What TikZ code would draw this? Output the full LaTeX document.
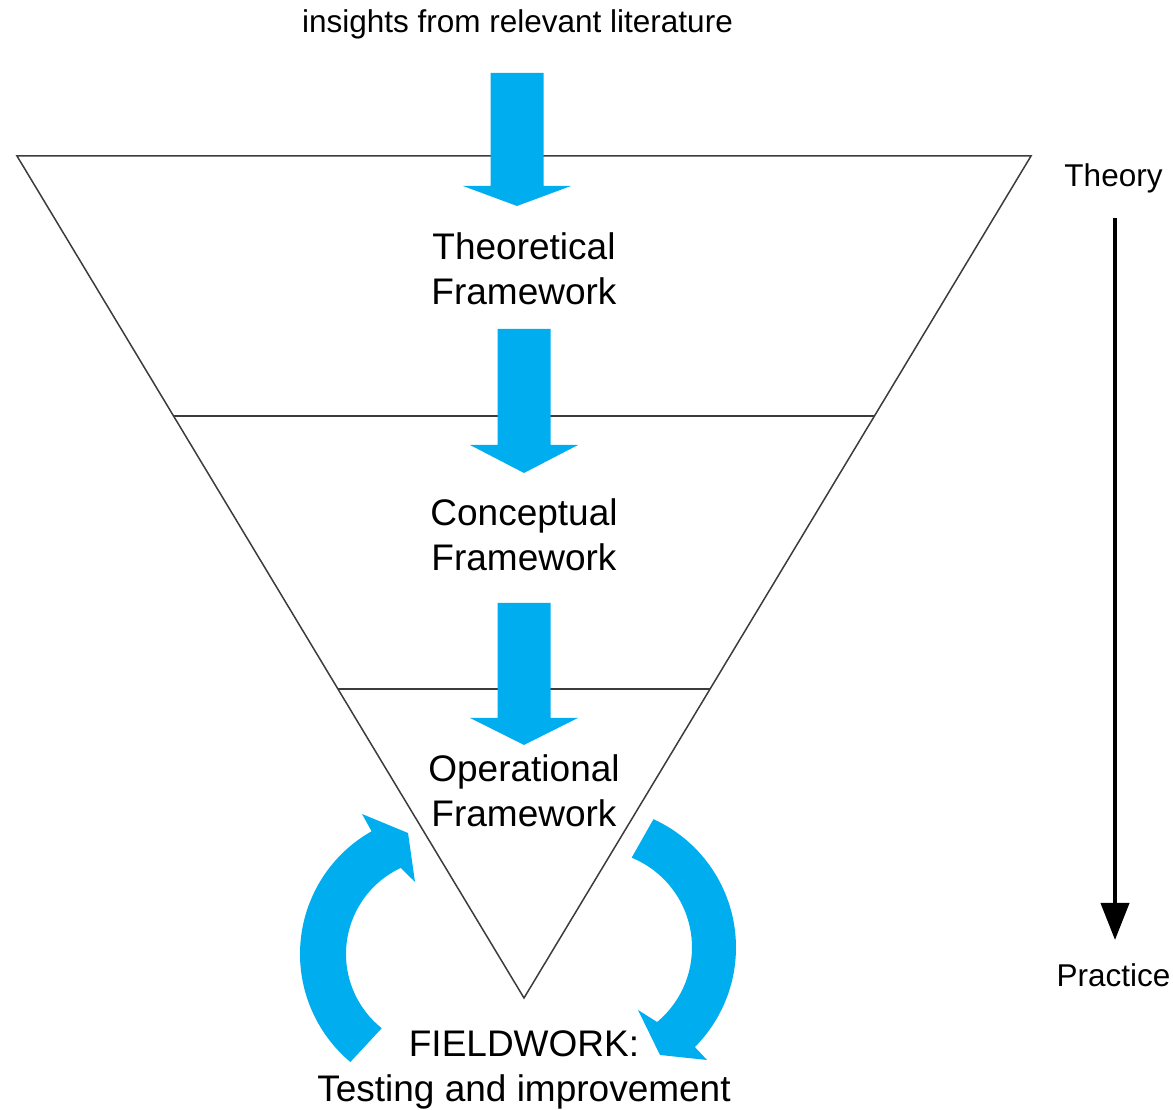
\documentclass[tikz,border=0pt]{standalone}
\usepackage{fontspec}
\setmainfont{Liberation Sans}
\usetikzlibrary{calc,arrows.meta}
\definecolor{arrowblue}{RGB}{0,174,239}
\definecolor{edgegray}{RGB}{60,60,60}
\newcommand\bluedownarrow[4]{% center x, top y, head base y, tip y
  \fill[arrowblue] ({#1-26.5},#2) -- ({#1+26.5},#2) -- ({#1+26.5},#3) -- ({#1+54},#3)
    -- (#1,#4) -- ({#1-54},#3) -- ({#1-26.5},#3) -- cycle;}
\begin{document}
\begin{tikzpicture}[x=1pt,y=1pt,
  bigtext/.style={font=\fontsize{37}{45}\selectfont, align=center, inner sep=0pt},
  smalltext/.style={font=\fontsize{31.5}{38}\selectfont, inner sep=0pt},
  funnel/.style={draw=edgegray, line width=1.5pt, line join=miter}]
\useasboundingbox (0,0) rectangle (1173,1110);
% funnel
\coordinate (TL) at (17,954);
\coordinate (TR) at (1031,954);
\coordinate (B) at (524,112);
\draw[funnel] (TL) -- (TR) -- (B) -- cycle;
\draw[funnel] ($(TL)!0.3088!(B)$) -- ($(TR)!0.3088!(B)$);
\draw[funnel] ($(TL)!0.6330!(B)$) -- ($(TR)!0.6330!(B)$);
% straight blue arrows
\bluedownarrow{517}{1037}{924}{904}
\bluedownarrow{524}{781}{665}{637}
\bluedownarrow{524}{507}{392}{365}
% curved blue arrows
\fill[arrowblue] ([shift={(441,156)}]230:141) arc[start angle=230, end angle=119.5, radius=141]
  -- (362,296) -- (408,277) -- (415,228)
  -- ([shift={(441,156)}]115:95) arc[start angle=115, end angle=231.4, radius=95] -- cycle;
\fill[arrowblue] ([shift={(595,162.5)}]65.5:141) arc[start angle=65.5, end angle=-44.9, radius=141]
  -- (707,50) -- (660,55) -- (638,100)
  -- ([shift={(595,162.5)}]-50.2:97) arc[start angle=-50.2, end angle=67.8, radius=97] -- cycle;
% texts
\node[smalltext, anchor=base] (lit) at (517.5,1077) {insights from relevant literature};
\node[bigtext] (theo) at (524,841) {Theoretical\\Framework};
\node[bigtext] (conc) at (524,575) {Conceptual\\Framework};
\node[bigtext] (oper) at (524,319) {Operational\\Framework};
\node[bigtext] (field) at (524,40) {FIELDWORK:\\Testing and improvement};
\node[smalltext, anchor=base] (theory) at (1113.5,923) {Theory};
\node[smalltext, anchor=base] (practice) at (1113.5,123) {Practice};
% theory -> practice arrow
\coordinate (tpStart) at (1115,892);
\coordinate (tpEnd) at (1115,170);
\draw[line width=4pt, -{Triangle[length=37pt,width=28pt]}] (tpStart) -- (tpEnd);
\end{tikzpicture}
\end{document}
